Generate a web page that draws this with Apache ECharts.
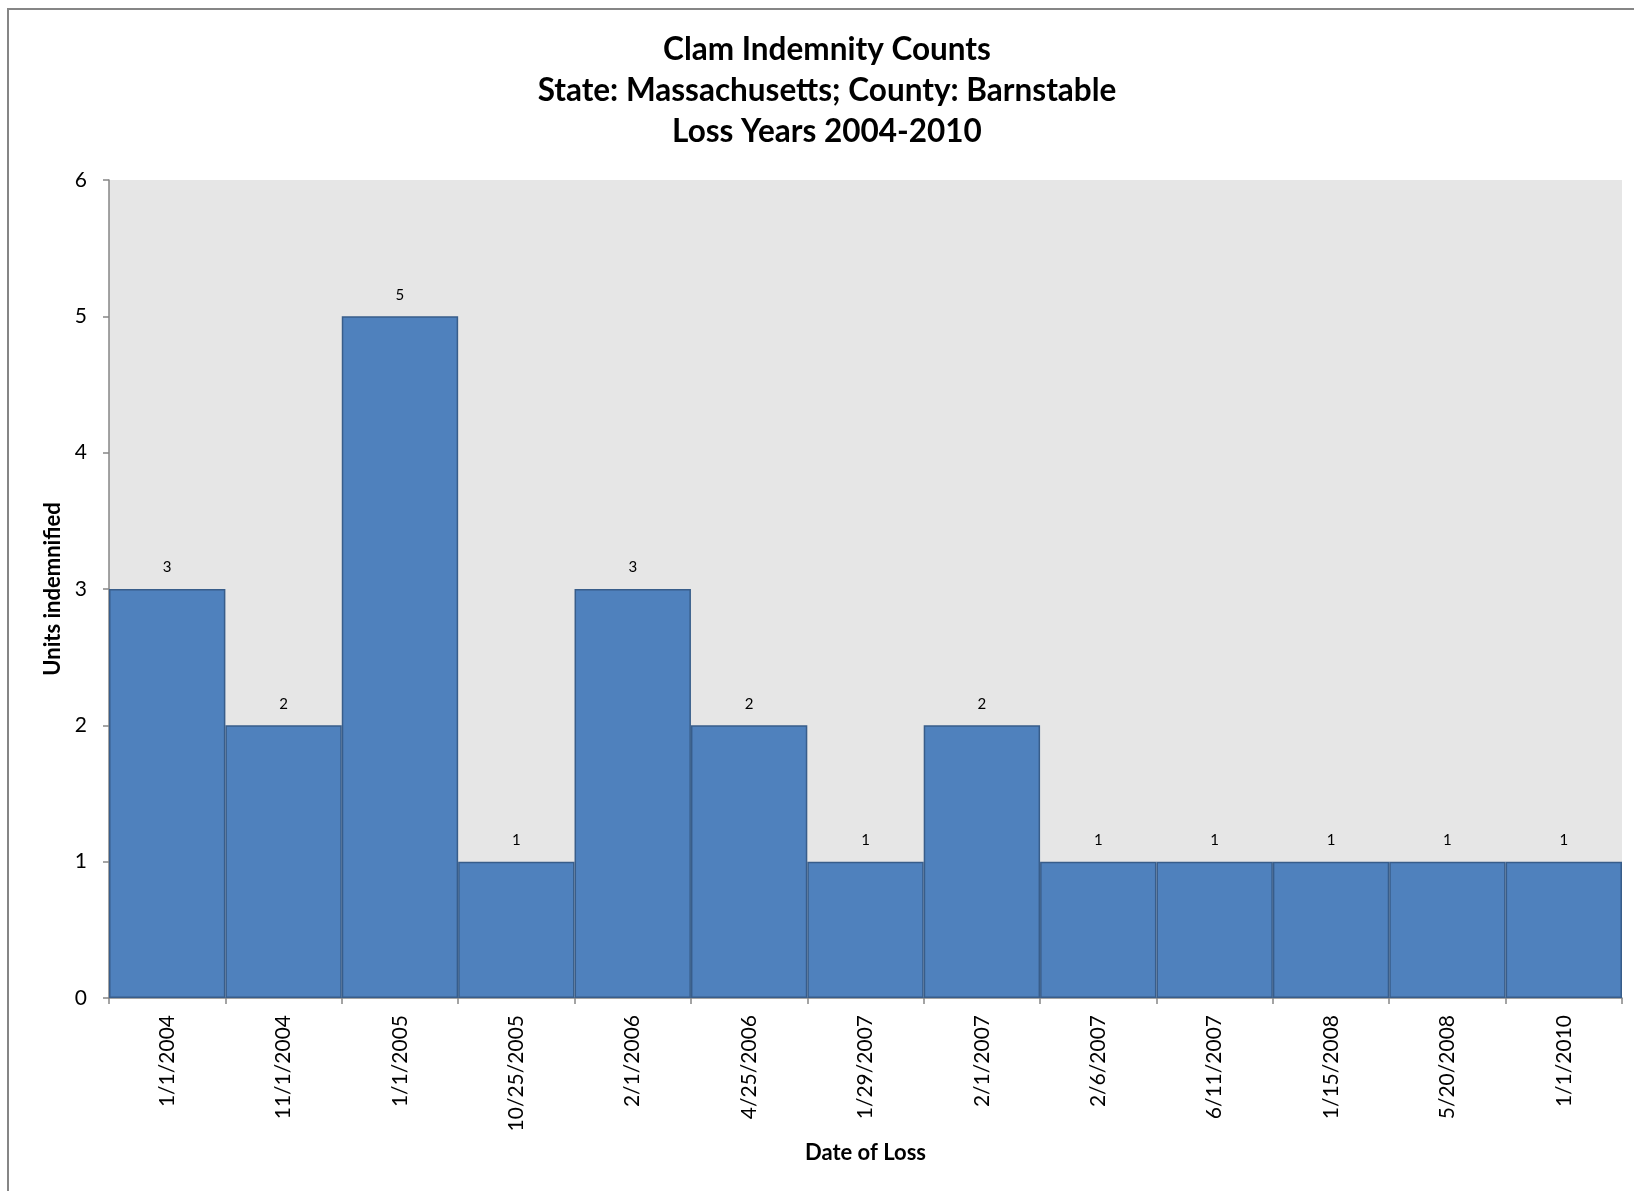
<!DOCTYPE html>
<html>
<head>
<meta charset="utf-8">
<script src="https://cdn.jsdelivr.net/npm/echarts@6/dist/echarts.min.js"></script>
<style>
	html, body { margin: 0; padding: 0; background: #fff; }
	#myChart { width: 1634px; height: 1191px; }
</style>
</head>
<body>
<div id="myChart"></div>
<script>
// data
var categories = ['1/1/2004', '11/1/2004', '1/1/2005', '10/25/2005', '2/1/2006', '4/25/2006', '1/29/2007',
	'2/1/2007', '2/6/2007', '6/11/2007', '1/15/2008', '5/20/2008', '1/1/2010']
var unitsIndemnified = [3, 2, 5, 1, 3, 2, 1, 2, 1, 1, 1, 1, 1]
var titleLines = ['Clam Indemnity Counts', 'State: Massachusetts; County: Barnstable', 'Loss Years 2004-2010']
var yTicks = { min: 0, max: 6, interval: 1 }

var font = 'Lato, "Open Sans", sans-serif'
var axisGray = '#868686'

var myChart = echarts.init(document.getElementById('myChart'))
var option = {
	animation: false,
	textStyle: { fontFamily: font },
	title: {
		text: titleLines.join('\n'),
		left: 822,
		top: 24,
		textAlign: 'center',
		textStyle: {
			fontFamily: font,
			fontSize: 31.5,
			fontWeight: 'bold',
			color: '#000',
			lineHeight: 41
		}
	},
	graphic: [{
		// outer chart frame
		type: 'rect',
		shape: { x: 8, y: 9, width: 1700, height: 1300 },
		style: { fill: 'none', stroke: axisGray, lineWidth: 2 },
		silent: true
	}],
	grid: {
		left: 109,
		right: 12,
		top: 180,
		bottom: 193,
		show: true,
		backgroundColor: '#e6e6e6',
		borderWidth: 0
	},
	xAxis: {
		type: 'category',
		data: categories,
		name: 'Date of Loss',
		nameLocation: 'middle',
		nameGap: 144,
		nameTextStyle: { fontFamily: font, fontSize: 22, fontWeight: 'bold', color: '#000' },
		axisLine: { lineStyle: { color: axisGray, width: 1.5 } },
		axisTick: { show: true, length: 6, lineStyle: { color: axisGray, width: 1.5 } },
		axisLabel: { rotate: 90, margin: 17, fontSize: 21, color: '#000', fontFamily: font }
	},
	yAxis: {
		type: 'value',
		min: yTicks.min,
		max: yTicks.max,
		interval: yTicks.interval,
		name: 'Units indemnified',
		nameLocation: 'middle',
		nameRotate: 90,
		nameGap: 44,
		nameTextStyle: { fontFamily: font, fontSize: 22, fontWeight: 'bold', color: '#000' },
		axisLine: { show: true, lineStyle: { color: axisGray, width: 1.5 } },
		axisTick: { show: true, length: 6, lineStyle: { color: axisGray, width: 1.5 } },
		axisLabel: { margin: 22, fontSize: 21, color: '#000', fontFamily: font },
		splitLine: { show: false }
	},
	series: [{
		type: 'bar',
		data: unitsIndemnified,
		barCategoryGap: 0,
		itemStyle: {
			color: '#4f81bd',
			borderColor: '#385d8a',
			borderWidth: 1.5
		},
		label: {
			show: true,
			position: 'top',
			distance: 14,
			fontSize: 15,
			color: '#000',
			fontFamily: font
		}
	}]
}
myChart.setOption(option)
</script>
</body>
</html>
